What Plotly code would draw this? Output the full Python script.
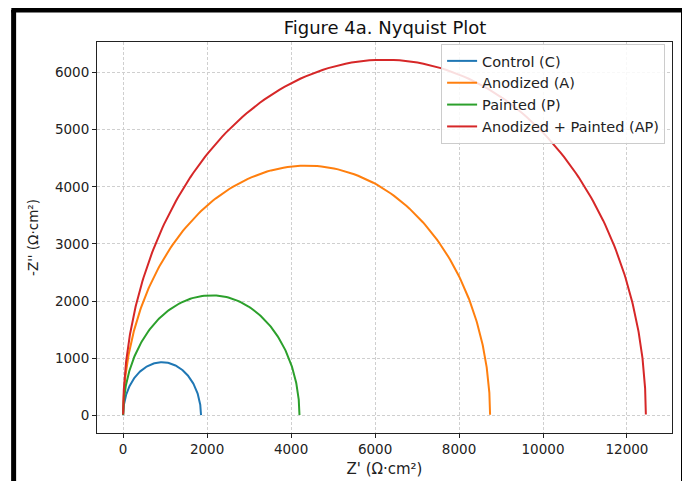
import numpy as np
import plotly.graph_objects as go

# Charge-transfer resistances (Ω·cm²) read from the semicircle diameters
samples = ["Control (C)", "Anodized (A)", "Painted (P)", "Anodized + Painted (AP)"]
r_ct = [1855, 8740, 4200, 12450]
colors = ["#1f77b4", "#ff7f0e", "#2ca02c", "#d62728"]

# Normalised frequency sweep (omega * R * C) for a simple R||C (Randles, Rs = 0) response
omega_tau = np.logspace(-3, 3, 600)

x_ticks = [0, 2000, 4000, 6000, 8000, 10000, 12000]
y_ticks = [0, 1000, 2000, 3000, 4000, 5000, 6000]

fig = go.Figure()
for name, r, c in zip(samples, r_ct, colors):
    z = r / (1 + 1j * omega_tau)
    fig.add_trace(go.Scatter(x=z.real, y=-z.imag, mode="lines", name=name,
                             line=dict(color=c, width=2)))

font = "DejaVu Sans, sans-serif"
axis_common = dict(showline=True, linecolor="#222", linewidth=1, mirror=True,
                   ticks="outside", ticklen=4, tickwidth=1, tickcolor="#222",
                   showgrid=True, gridcolor="#cfcfcf", griddash="3px,2px", gridwidth=0.8,
                   zeroline=False, automargin=False,
                   tickfont=dict(family=font, size=13.5, color="#222"))

xmax = max(r_ct)
W, H = 682, 473
fig.update_layout(
    width=W, height=H,
    margin=dict(l=89, r=17.5, t=34, b=48),
    paper_bgcolor="white", plot_bgcolor="white",
    title=dict(text="Figure 4a. Nyquist Plot", x=377 / W, xanchor="center",
               y=1 - 20 / H, yanchor="middle",
               font=dict(family=font, size=18, color="#111")),
    xaxis=dict(range=[-0.05 * xmax, 1.05 * xmax], tickvals=x_ticks,
               ticktext=[str(v) for v in x_ticks],
               title=dict(text="Z' (Ω·cm²)", standoff=7,
                          font=dict(family=font, size=15, color="#222")),
               **axis_common),
    yaxis=dict(range=[-0.05 * xmax / 2, 1.05 * xmax / 2], tickvals=y_ticks,
               ticktext=[str(v) for v in y_ticks],
               title=dict(text="-Z'' (Ω·cm²)", standoff=13,
                          font=dict(family=font, size=13.5, color="#222")),
               **axis_common),
    legend=dict(x=0.988, y=0.995, xanchor="right", yanchor="top",
                bgcolor="rgba(255,255,255,0.85)", bordercolor="#cccccc", borderwidth=1,
                font=dict(family=font, size=14.5, color="#222"), itemwidth=30,
                tracegroupgap=0),
    shapes=[
        dict(type="line", xref="paper", yref="paper", x0=-0.145, x1=-0.145,
             y0=-0.2, y1=1.082, line=dict(color="black", width=5)),
        dict(type="line", xref="paper", yref="paper", x0=1.02, x1=1.02,
             y0=-0.2, y1=1.082, line=dict(color="black", width=5)),
        dict(type="line", xref="paper", yref="paper", x0=-0.149, x1=1.024,
             y0=1.082, y1=1.082, line=dict(color="black", width=5)),
    ],
)

fig.write_html("out.html")
